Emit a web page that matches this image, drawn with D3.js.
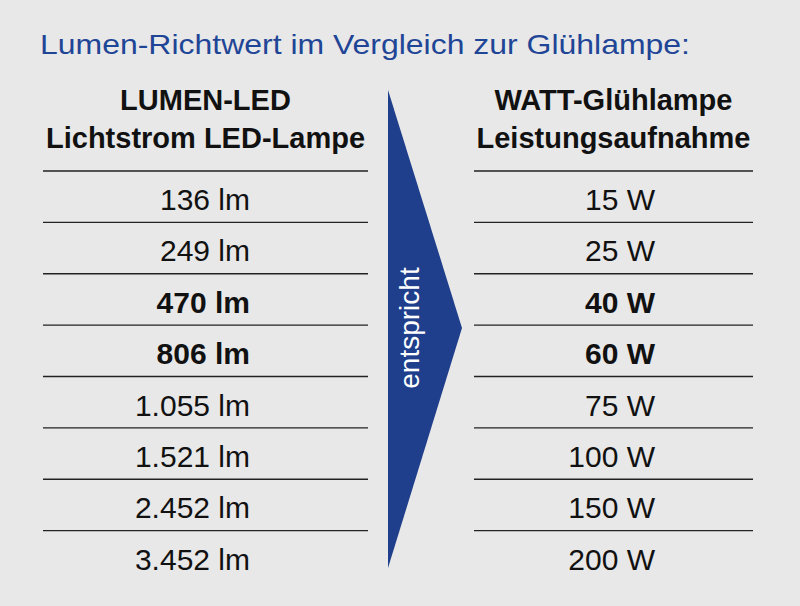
<!DOCTYPE html><html><head><meta charset="utf-8">
<script src="https://cdn.jsdelivr.net/npm/d3@7"></script>
<style>body{margin:0;background:#e8e8e8}</style></head><body><svg id="c" width="800" height="606"></svg>
<script>
const title = "Lumen-Richtwert im Vergleich zur Glühlampe:";
const leftHeader = ["LUMEN-LED", "Lichtstrom LED-Lampe"];
const rightHeader = ["WATT-Glühlampe", "Leistungsaufnahme"];
const lumen = ["136 lm","249 lm","470 lm","806 lm","1.055 lm","1.521 lm","2.452 lm","3.452 lm"];
const watt = ["15 W","25 W","40 W","60 W","75 W","100 W","150 W","200 W"];
const bold = [false,false,true,true,false,false,false,false];
const arrowLabel = "entspricht";

const svg = d3.select("#c");
const font = "'Liberation Sans',Arial,sans-serif";
svg.append("rect").attr("width",800).attr("height",606).attr("fill","#e8e8e8");
svg.append("text").attr("x",40).attr("y",54).attr("fill","#1f4596").attr("font-family",font)
  .attr("font-size",28.5).attr("textLength",650).attr("lengthAdjust","spacingAndGlyphs").text(title);
const y = d3.scaleLinear().domain([0,8]).range([171,582]);
function col(x0,x1,xr,header,vals){
  const cx=(x0+x1)/2;
  header.forEach((h,i)=>svg.append("text").attr("x",cx).attr("y",110+i*38).attr("text-anchor","middle")
    .attr("font-family",font).attr("font-weight","bold").attr("font-size",29).attr("fill","#111").text(h));
  vals.forEach((v,i)=>{
    svg.append("line").attr("x1",x0).attr("x2",x1).attr("y1",y(i)).attr("y2",y(i)).attr("stroke","#222").attr("stroke-width",1.3);
    svg.append("text").attr("x",xr).attr("y",y(i)+39).attr("text-anchor","end").attr("font-family",font)
      .attr("font-weight",bold[i]?"bold":"normal").attr("font-size",30).attr("fill","#111").text(v);
  });
}
col(43,368,250,leftHeader,lumen);
col(474,753,655,rightHeader,watt);
svg.append("path").attr("d","M388,90 L462,328 L388,568 Z").attr("fill","#1f3f8c");
svg.append("text").attr("transform","translate(419,328) rotate(-90)").attr("text-anchor","middle")
  .attr("font-family",font).attr("font-size",28).attr("fill","#fff").text(arrowLabel);
</script></body></html>
